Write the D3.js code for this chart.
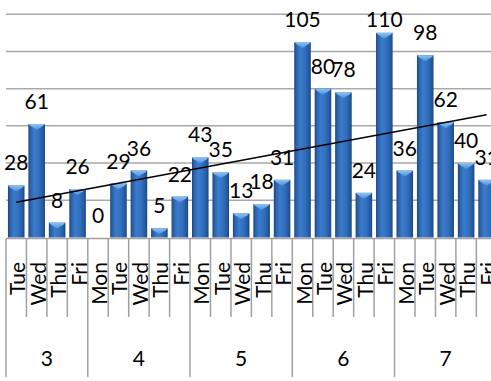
<!DOCTYPE html>
<html><head><meta charset="utf-8">
<script src="https://cdn.jsdelivr.net/npm/d3@7"></script>
<style>html,body{margin:0;padding:0;background:#fff;overflow:hidden}</style>
</head><body>
<svg id="c" width="491" height="381"></svg>
<script>
const weeks = ["3","3","3","3","4","4","4","4","4","5","5","5","5","5","6","6","6","6","6","7","7","7","7","7"];
const days = ["Tue","Wed","Thu","Fri","Mon","Tue","Wed","Thu","Fri","Mon","Tue","Wed","Thu","Fri","Mon","Tue","Wed","Thu","Fri","Mon","Tue","Wed","Thu","Fri"];
const values = [28,61,8,26,0,29,36,5,22,43,35,13,18,31,105,80,78,24,110,36,98,62,40,31];
const yTicks = [20,40,60,80,100,120];

const svg = d3.select("#c");
const left = 6, step = 20.45, n = values.length;
const right = left + step * n;
const ids = d3.range(n);
const xBand = d3.scaleBand().domain(ids).range([left, right]).paddingInner(0.19).paddingOuter(0.095);
const xCat = d3.scaleBand().domain(ids).range([left, right]).padding(0);
const y = d3.scaleLinear().domain([0, 120]).range([237.5, 14.2]);

const defs = svg.append("defs");
const g1 = defs.append("linearGradient").attr("id","barG").attr("x1","0").attr("x2","1").attr("y1","0").attr("y2","0");
[["0","#1b4682"],["0.12","#2a60a8"],["0.35","#3a7bcc"],["0.65","#3170bd"],["0.9","#24579d"],["1","#1a447e"]].forEach(s=>g1.append("stop").attr("offset",s[0]).attr("stop-color",s[1]));
const g2 = defs.append("linearGradient").attr("id","capG").attr("x1","0").attr("x2","0").attr("y1","0").attr("y2","1");
[["0","#8cc3f3"],["1","#4e8fdc"]].forEach(s=>g2.append("stop").attr("offset",s[0]).attr("stop-color",s[1]));

// gridlines
svg.append("g").selectAll("line").data(yTicks).join("line")
  .attr("x1", left).attr("x2", 491).attr("y1", d=>y(d)).attr("y2", d=>y(d))
  .attr("stroke", "#a9a9a9").attr("stroke-width", 1.5);

// bars
const bw = xBand.bandwidth();
const bars = svg.append("g");
bars.selectAll("rect.bar").data(values).join("rect").attr("class","bar")
  .attr("x", (d,i)=>xBand(i)).attr("width", bw)
  .attr("y", d=>y(d)).attr("height", d=>y(0)-y(d))
  .attr("fill", "url(#barG)");
bars.selectAll("path.cap").data(values).join("path").attr("class","cap")
  .attr("d", (d,i)=>{
    const x0 = xBand(i), x1 = x0 + bw, t = y(d), c = x0 + bw/2;
    const h = Math.min(6, y(0)-t);
    return `M${x0},${t}L${x1},${t}L${x1-2},${t+Math.min(2,h)}L${c},${t+h}L${x0+2},${t+Math.min(2,h)}Z`;
  })
  .attr("fill", "url(#capG)");

// axis baseline
svg.append("line").attr("x1", left).attr("x2", 491).attr("y1", 238.5).attr("y2", 238.5)
  .attr("stroke", "#a0a0a0").attr("stroke-width", 1.5);

// trendline (least squares on data)
const xm = d3.mean(ids), ym = d3.mean(values);
const slope = d3.sum(ids, i=>(i-xm)*(values[i]-ym)) / d3.sum(ids, i=>(i-xm)*(i-xm));
const icpt = ym - slope*xm;
svg.append("line")
  .attr("x1", xCat(0)+step/2).attr("y1", y(icpt))
  .attr("x2", xCat(n-1)+step/2).attr("y2", y(icpt + slope*(n-1)))
  .attr("stroke", "#000").attr("stroke-width", 1.5);

// value labels
svg.append("g").selectAll("text").data(values).join("text")
  .attr("x", (d,i)=>xBand(i)+bw/2).attr("y", d=>Math.max(y(d)-15, 27))
  .attr("text-anchor","middle")
  .style("font-family","Lato, 'Open Sans', sans-serif").style("font-size","21px").attr("fill","#000")
  .text(d=>d);

// category ticks
const weekStart = ids.filter(i=> i===0 || weeks[i]!==weeks[i-1]);
const tk = svg.append("g").attr("stroke","#a0a0a0").attr("stroke-width",1.5);
tk.selectAll("line").data(d3.range(n+1)).join("line")
  .attr("x1", i=>xCat(0)+i*step).attr("x2", i=>xCat(0)+i*step)
  .attr("y1", 239).attr("y2", i=> (i===0 || weekStart.includes(i) || i===n) ? 377 : 317);

// day labels
svg.append("g").selectAll("text").data(days).join("text")
  .attr("transform", (d,i)=>`translate(${xCat(i)+step/2+9},262) rotate(-90)`)
  .attr("text-anchor","end")
  .style("font-family","Lato, 'Open Sans', sans-serif").style("font-size","21px").attr("fill","#000")
  .text(d=>d);

// week labels
const weekNames = Array.from(new Set(weeks));
svg.append("g").selectAll("text").data(weekNames).join("text")
  .attr("x", w=>{const idx = ids.filter(i=>weeks[i]===w); return (xCat(idx[0]) + xCat(idx[idx.length-1]) + step)/2;})
  .attr("y", 366).attr("text-anchor","middle")
  .style("font-family","Lato, 'Open Sans', sans-serif").style("font-size","21px").attr("fill","#000")
  .text(w=>w);
</script>
</body></html>
